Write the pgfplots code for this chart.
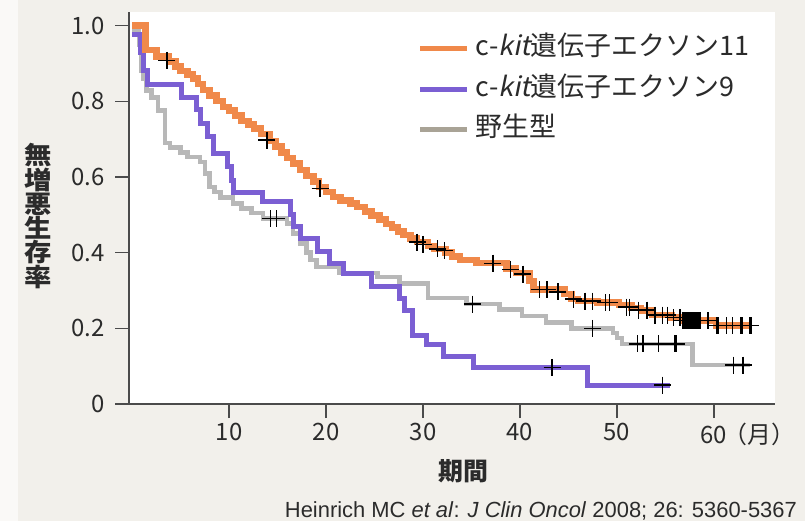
\documentclass[border=0pt]{standalone}
\usepackage{pgfplots}
\pgfplotsset{compat=1.18}
\usepackage{fontspec}
\setmainfont{Noto Sans CJK JP}
\newfontfamily\cjk{Noto Sans CJK JP}
\newfontfamily\cjkit[FakeSlant=0.2]{Noto Sans CJK JP}
\newfontfamily\lib{Liberation Sans}
\definecolor{korange}{HTML}{F0894A}
\definecolor{kpurple}{HTML}{7B5FD3}
\definecolor{kgray}{HTML}{B8B8B8}
\definecolor{kleggray}{HTML}{A9A396}
\definecolor{bg}{HTML}{F2F0EB}
\definecolor{txt}{HTML}{2B2B2B}
\begin{document}
\begin{tikzpicture}
\fill[bg] (0bp,0bp) rectangle (805bp,521bp);
\fill[white!60!bg] (0bp,0bp) rectangle (18bp,521bp);
\path[use as bounding box] (0bp,0bp) rectangle (805bp,521bp);
\begin{axis}[
  at={(129bp,117bp)}, anchor=south west,
  scale only axis, width=646bp, height=392bp,
  xmin=-0.31, xmax=66.29, ymin=0, ymax=1.0357,
  axis x line*=bottom, axis y line*=left,
  axis background/.style={fill=white},
  axis line style={line width=1.4bp, color=txt!85},
  every tick/.style={line width=1.3bp, color=txt!85},
  tick align=outside, major tick length=14bp,
  xtick={10,20,30,40,50,60},
  xticklabels={10,20,30,40,50,{60\rlap{\kern-4bp（月）}}},
  ytick={0,0.2,0.4,0.6,0.8,1.0},
  yticklabels={0,0.2,0.4,0.6,0.8,1.0},
  ticklabel style={font=\cjk\fontsize{24}{24}\selectfont, text=txt},
  yticklabel style={xshift=-7bp},
  xticklabel style={yshift=-2bp},
  legend style={at={(axis description cs:0.447,0.94)}, anchor=north west,
    draw=none, fill=none, font=\cjk\fontsize{27}{27}\selectfont, text=txt,
    row sep=14.5bp, inner sep=0pt,
    nodes={text height=20bp, text depth=6bp, inner xsep=6bp, inner ysep=0pt}},
  legend cell align=left,
  legend image code/.code={\draw[#1, line width=5bp] (0bp,0bp) -- (47bp,0bp);},
]
\addlegendimage{korange}
\addlegendentry{c-{\cjkit kit}遺伝子エクソン11}
\addlegendimage{kpurple}
\addlegendentry{c-{\cjkit kit}遺伝子エクソン9}
\addlegendimage{kleggray}
\addlegendentry{野生型}

% wild type
\addplot[const plot, kgray, line width=4.5bp, forget plot] coordinates {
(0,0.99) (0.7,0.95) (1.0,0.88) (1.2,0.86) (1.5,0.828) (2.0,0.81) (2.7,0.776)
(3.4,0.69) (3.9,0.678) (5.0,0.665) (5.7,0.652) (7.0,0.639) (7.5,0.609)
(8.0,0.573) (8.5,0.56) (9.1,0.546) (10.4,0.53) (11.3,0.517) (12.3,0.504)
(13.5,0.49) (16.0,0.477) (16.6,0.45) (17.3,0.424) (18.0,0.40) (18.4,0.38)
(19.0,0.362) (21.4,0.346) (25.3,0.336) (27.6,0.319) (30.5,0.28) (34.5,0.264)
(37.9,0.25) (40.2,0.232) (42.7,0.215) (45.3,0.2) (49.6,0.187) (50.0,0.174)
(50.5,0.159) (57.8,0.103) (63.7,0.103)};

% exon 9
\addplot[const plot, kpurple, line width=5bp, forget plot] coordinates {
(0,0.975) (0.9,0.93) (1.2,0.88) (1.6,0.845) (5.1,0.81) (6.6,0.777) (7.1,0.742)
(7.8,0.706) (8.4,0.662) (9.8,0.627) (10.3,0.59) (10.5,0.56) (13.5,0.534)
(16.3,0.50) (16.7,0.468) (17.4,0.438) (19.1,0.402) (20.4,0.372) (21.8,0.346)
(24.7,0.31) (27.6,0.28) (28.1,0.248) (28.9,0.182) (30.4,0.156) (32.1,0.125)
(35.2,0.097) (47.0,0.05) (55.5,0.05)};

% exon 11
\addplot[const plot, korange, line width=6.5bp, forget plot] coordinates {
(0,1.0) (1.4,0.935) (2.5,0.918) (3.8,0.905) (4.5,0.892) (5.0,0.88) (5.7,0.87)
(6.3,0.86) (6.8,0.845) (7.3,0.83) (8.0,0.815) (8.7,0.80) (9.4,0.785) (10.0,0.775)
(10.6,0.762) (11.3,0.748) (12.0,0.738) (12.6,0.728) (13.3,0.714) (14.2,0.695)
(14.8,0.68) (15.4,0.665) (16.0,0.65) (16.6,0.636) (17.3,0.618) (18.0,0.603)
(18.7,0.588) (19.3,0.573) (20.0,0.56) (20.7,0.547) (21.5,0.537) (22.5,0.53)
(23.2,0.52) (24.0,0.508) (24.7,0.498) (25.5,0.488) (26.2,0.476) (26.8,0.466)
(27.4,0.456) (28.0,0.446) (28.7,0.437) (29.4,0.428) (30.5,0.418) (31.2,0.41)
(32.3,0.40) (33.0,0.39) (33.8,0.38) (35.5,0.372) (38.6,0.358) (39.6,0.346)
(41.0,0.325) (41.4,0.302) (44.6,0.29) (45.3,0.277) (46.0,0.272) (48.0,0.268)
(50.2,0.262) (51.5,0.253) (52.5,0.247) (53.6,0.235) (55.6,0.228) (56.7,0.22)
(60.2,0.207) (63.7,0.207)};

% censor marks
\addplot[only marks, mark=+, mark size=8.5bp, mark options={line width=1.4bp, black}, forget plot] coordinates {
(3.6,0.908) (13.9,0.697) (19.4,0.569) (29.4,0.428) (30.0,0.422) (31.5,0.41) (32.2,0.405)
(37.2,0.372) (39.0,0.356) (40.3,0.343) (42.0,0.302) (42.8,0.302) (43.9,0.296)
(45.5,0.277) (46.7,0.272) (47.5,0.272) (48.8,0.268) (49.2,0.268)
(51.0,0.256) (51.3,0.256) (52.2,0.248) (53.1,0.248) (53.9,0.235) (54.7,0.235) (55.2,0.235)
(55.8,0.228) (56.5,0.228) (56.8,0.22) (56.9,0.22) (57.0,0.22) (57.1,0.22) (57.2,0.22)
(57.3,0.22) (57.4,0.22) (57.5,0.22) (57.6,0.22) (57.7,0.22) (57.8,0.22) (57.9,0.22)
(58.0,0.22) (58.1,0.22) (58.2,0.22) (58.3,0.22) (58.4,0.22) (58.5,0.22) (58.6,0.22)
(59.3,0.22) (59.4,0.22)
(60.3,0.207) (60.4,0.207) (61.3,0.207) (61.9,0.207) (62.8,0.207) (62.9,0.207) (63.7,0.207) (63.8,0.207)
(43.3,0.097) (54.7,0.05)
(14.3,0.49) (14.9,0.49) (35.1,0.264) (47.5,0.2) (52.1,0.159) (52.7,0.159)
(54.3,0.159) (56.0,0.159) (56.1,0.159) (62.0,0.103) (63.0,0.103)};
\end{axis}
\node[font=\cjk\bfseries\fontsize{25}{24.4}\selectfont, align=center, text=txt, xscale=1.1] at (38bp,305bp) {無\\増\\悪\\生\\存\\率};
\node[font=\cjk\bfseries\fontsize{25}{25}\selectfont, text=txt] at (463bp,50bp) {期間};
\node[font=\lib\fontsize{22}{22}\selectfont, text=txt, anchor=base east, inner sep=0pt] at (797bp,4bp) {Heinrich MC \textit{et al}: \textit{J Clin Oncol} 2008; 26: 5360-5367};
\end{tikzpicture}
\end{document}
